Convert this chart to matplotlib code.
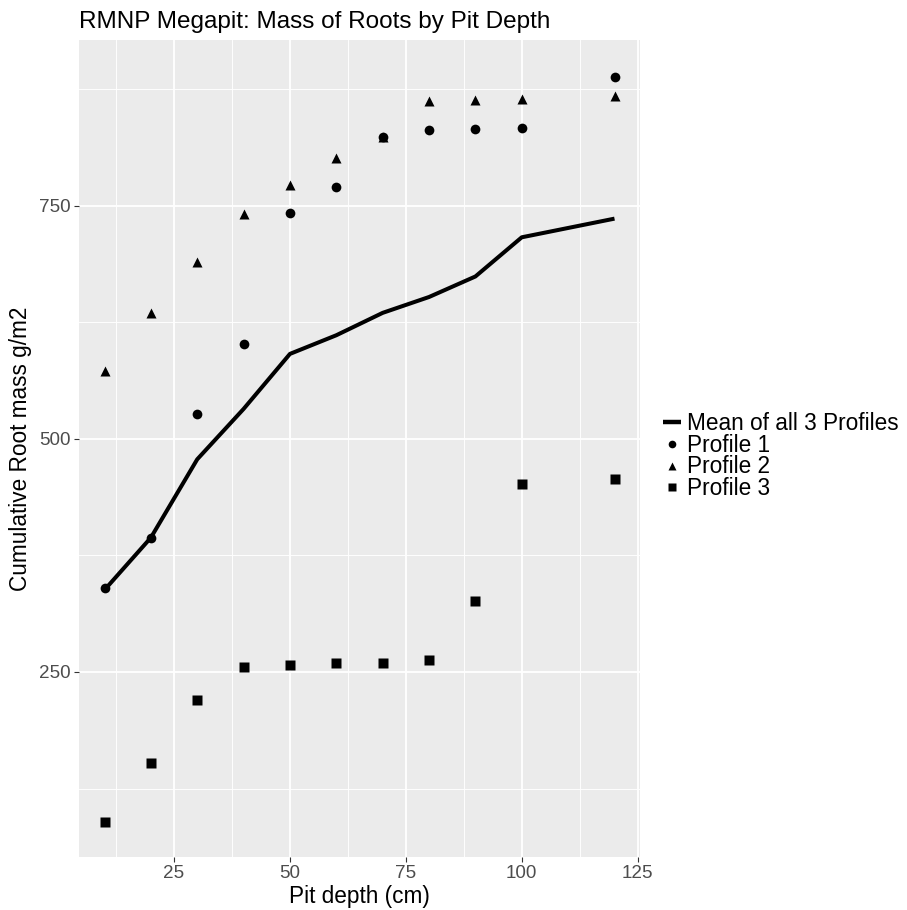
import numpy as np
import matplotlib
matplotlib.use('Agg')
import matplotlib.pyplot as plt
from matplotlib.lines import Line2D
from matplotlib.ticker import MultipleLocator

plt.rcParams['font.family'] = ['Liberation Sans', 'DejaVu Sans']

# pit depth (cm)
depth = [10, 20, 30, 40, 50, 60, 70, 80, 90, 100, 120]

# cumulative root mass g/m2
profile1 = [340, 394, 527, 602, 742, 770, 824, 831, 832, 833, 888]
profile2 = [573, 635, 689, 741, 772, 801, 823, 862, 863, 864, 867]
profile3 = [89, 152, 220, 255, 258, 260, 260, 263, 326, 451, 457]
mean_all = [338, 394, 478, 532, 591, 611, 635, 652, 674, 716, 736]

labels = ['Mean of all 3 Profiles', 'Profile 1', 'Profile 2', 'Profile 3']

fig = plt.figure(figsize=(9.07, 9.10), dpi=100)
ax = fig.add_axes([79 / 907, 1 - 856.7 / 910, (640 - 79) / 907, (856.7 - 40) / 910])

ax.set_facecolor('#EBEBEB')
for s in ax.spines.values():
    s.set_visible(False)

ax.plot(depth, mean_all, color='black', lw=2.9, solid_capstyle='butt', zorder=3)
ax.plot(depth, profile1, 'o', color='black', ms=7, mec='none', zorder=4)
ax.plot(depth, profile2, '^', color='black', ms=7.8, mec='none', zorder=4)
ax.plot(depth, profile3, 's', color='black', ms=6.5, mec='none', zorder=4)

ax.set_xlim(4.5, 125.5)
ax.set_ylim(52, 927.5)
ax.xaxis.set_major_locator(MultipleLocator(25))
ax.xaxis.set_minor_locator(MultipleLocator(12.5))
ax.set_yticks([250, 500, 750])
ax.yaxis.set_minor_locator(MultipleLocator(125))

ax.grid(which='major', color='white', lw=1.3)
ax.grid(which='minor', color='white', lw=0.65)
ax.set_axisbelow(True)
ax.tick_params(which='major', length=3.5, width=0.8, color='#333333',
               labelsize=13.6, labelcolor='#4D4D4D', pad=2.5)
ax.tick_params(which='minor', length=0)

ax.set_xlabel('Pit depth (cm)', fontsize=16.3, labelpad=2)
ax.set_ylabel('Cumulative Root mass g/m2', fontsize=16.3, labelpad=5)
ax.set_title('RMNP Megapit: Mass of Roots by Pit Depth', loc='left',
             fontsize=17.5, pad=9)

handles = [
    Line2D([], [], color='black', lw=3.2, solid_capstyle='butt'),
    Line2D([], [], marker='o', ls='none', color='black', ms=5.5, mec='none'),
    Line2D([], [], marker='^', ls='none', color='black', ms=6, mec='none'),
    Line2D([], [], marker='s', ls='none', color='black', ms=5.2, mec='none'),
]
fig.legend(handles, labels, loc='center left', bbox_to_anchor=(663 / 907, 1 - 456 / 910),
           frameon=False, fontsize=16.3, handlelength=0.8, handletextpad=0.25,
           labelspacing=-0.05, borderpad=0, borderaxespad=0)

fig.savefig('out.png', dpi=100)
